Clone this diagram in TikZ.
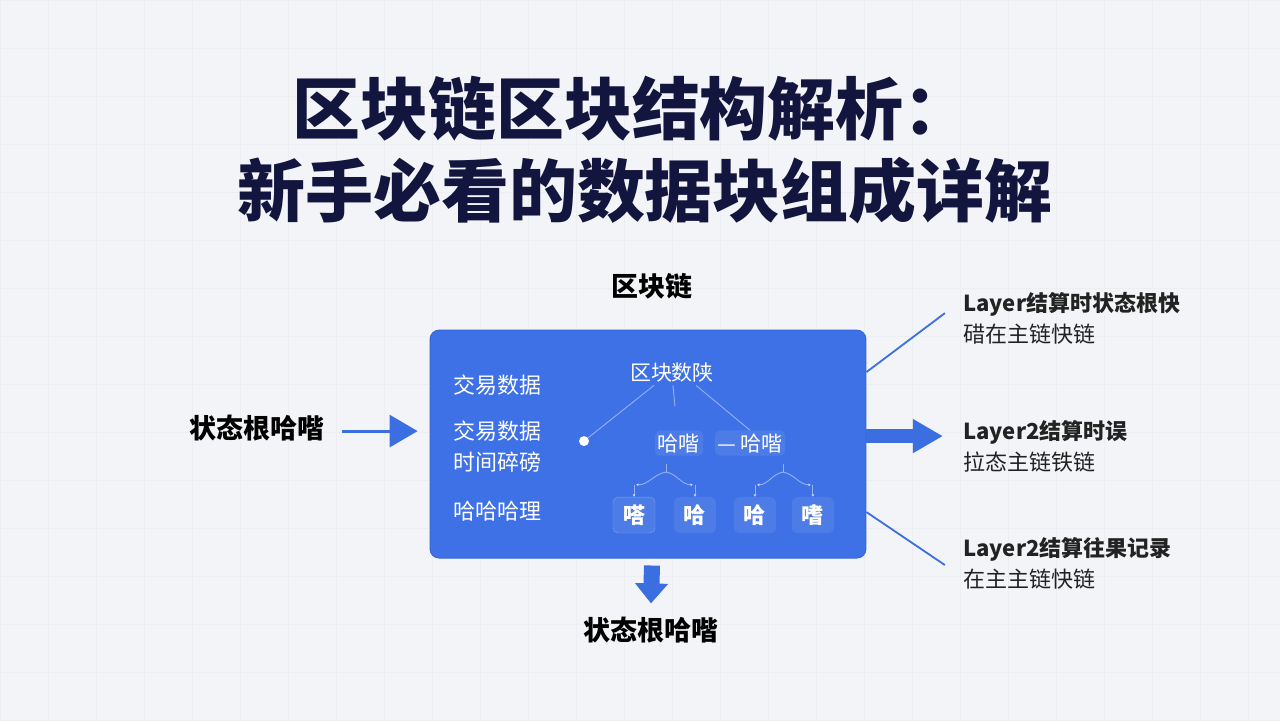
\documentclass[tikz,border=0pt]{standalone}
\usepackage{fontspec}
\setmainfont{Noto Sans CJK SC}
\usepackage{tikz}
\usetikzlibrary{arrows.meta,calc,positioning}
\definecolor{bgc}{HTML}{F2F4F7}
\definecolor{gridc}{HTML}{ECEEF2}
\definecolor{navy}{HTML}{12163F}
\definecolor{blkblue}{HTML}{3E71E6}
\definecolor{blkedge}{HTML}{3868DA}
\definecolor{arrblue}{HTML}{3B6EE0}
\definecolor{notegray}{HTML}{222222}

\tikzset{
  headline/.style={font=\fontsize{68}{74}\selectfont\bfseries, text=navy},
  lbl/.style={font=\fontsize{27}{30}\selectfont\bfseries, text=black},
  intxt/.style={font=\fontsize{22}{31}\selectfont, text=white, align=left, anchor=west},
  subbox/.style={fill=white, fill opacity=0.08, text opacity=1, text=white,
    rounded corners=5pt, inner sep=3pt, font=\fontsize{21}{22}\selectfont},
  leaf/.style={subbox, minimum width=42pt, minimum height=36pt,
    font=\fontsize{22}{24}\selectfont\bfseries},
  note/.style={font=\fontsize{22}{31}\selectfont, align=left, text=notegray, anchor=west},
  tree/.style={white, draw opacity=0.45, line width=0.9pt},
}

\begin{document}
\begin{tikzpicture}[x=1pt,y=-1pt]
\fill[bgc] (0,0) rectangle (1280,720);
\draw[gridc, line width=0.5pt, step=48pt] (0,0) grid (1280,720);
\useasboundingbox (0,0) rectangle (1280,720);

% title
\node[headline] (ttl1) at (632,108) {区块链区块结构解析：};
\node[headline] (ttl2) at (645,190) {新手必看的数据块组成详解};

% block
\node (chain) [lbl] at (652,286) {区块链};
\node (blk) [draw=blkedge, line width=1pt, fill=blkblue, rounded corners=9pt,
  minimum width=436pt, minimum height=228pt] at (648,444) {};

\node (tx1) [intxt] at (450,385) {交易数据};
\node (tx2) [intxt] at (450,446) {交易数据\\时间碎磅};
\node (tx3) [intxt] at (450,511) {哈哈哈理};

\node (dot) [circle, fill=white, inner sep=0pt, minimum size=10pt] at (584,441) {};
\node (hdr) [text=white, font=\fontsize{21}{22}\selectfont] at (672,372) {区块数陕};
\node (ha) [subbox] at (679,443) {哈喈};
\node (hb) [subbox] at (750,443) {—\,哈喈};

\node (l1) [leaf, draw=white, draw opacity=0.3] at (634,515) {嗒};
\node (l2) [leaf] at (695,515) {哈};
\node (l3) [leaf] at (755,515) {哈};
\node (l4) [leaf] at (813,515) {嗜};

\draw[tree] ([xshift=-18pt]hdr.south) -- (dot);
\draw[tree] ([xshift=1pt]hdr.south) -- ++(2,21);
\draw[tree] ([xshift=24pt]hdr.south) -- (hb.north);

\coordinate (j1) at (666,472);
\coordinate (j2) at (783,472);
\draw[tree] (j1) -- ++(0,-8);
\draw[tree] (j2) -- ++(0,-8);
\path[tree, -{Stealth[length=3pt,width=3pt]}]
  (j1) edge[out=190, in=0] ($(l1.north)+(2,-12)$)
  (j1) edge[out=-10, in=180] ($(l2.north)+(-2,-12)$)
  (j2) edge[out=190, in=0] ($(l3.north)+(2,-12)$)
  (j2) edge[out=-10, in=180] ($(l4.north)+(-2,-12)$)
  ($(l1.north)+(0,-12)$) edge (l1.north)
  ($(l2.north)+(0,-12)$) edge (l2.north)
  ($(l3.north)+(0,-12)$) edge (l3.north)
  ($(l4.north)+(0,-12)$) edge (l4.north);

% in and out
\node (st1) [lbl] at (257,428) {状态根哈喈};
\node (st2) [lbl] at (651,630) {状态根哈喈};

\node (t1) [note] at (960,318) {{\bfseries Layer结算时状态根快}\\碏在主链快链};
\node (t2) [note] at (960,446) {{\bfseries Layer2结算时误}\\拉态主链铁链};
\node (t3) [note] at (960,563) {{\bfseries Layer2结算往果记录}\\在主主链快链};

\draw[arrblue, line width=3pt, -{Triangle[length=28pt,width=32pt]}]
  ($(st1.east)+(14,3)$) -- ($(blk.west)+(-12,-13)$);
\draw[arrblue, line width=16pt, -{Triangle[length=20pt,width=32pt]}]
  ($(blk.south)+(4,7)$) -- ($(st2.north)+(0,-10)$);
\draw[arrblue, line width=14pt, -{Triangle[length=30pt,width=32pt]}]
  ($(blk.east)+(0,-8)$) -- ($(t2.west)+(-17,-10)$);
\draw[arrblue, line width=1.8pt] ($(blk.east)+(0,-72)$) -- ($(t1.west)+(-15,-5)$);
\draw[arrblue, line width=1.8pt] ($(blk.east)+(0,68)$) -- ($(t3.west)+(-15,2)$);
\end{tikzpicture}
\end{document}
